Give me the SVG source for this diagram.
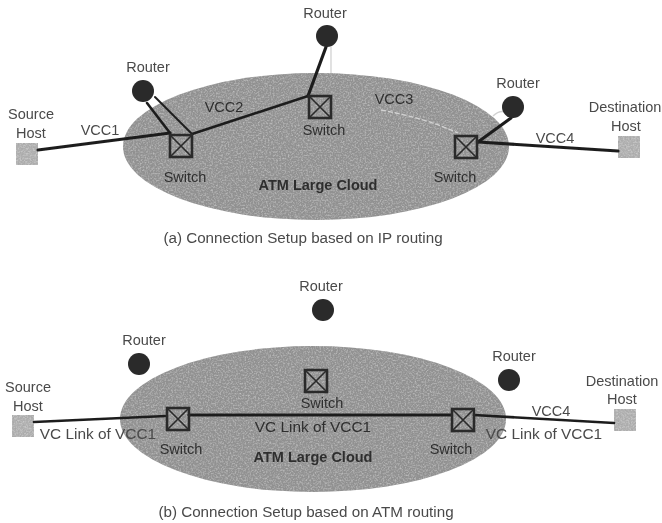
<svg xmlns="http://www.w3.org/2000/svg" width="662" height="523" viewBox="0 0 662 523">
<defs>
<filter id="speckle" x="-5%" y="-5%" width="110%" height="110%">
<feTurbulence type="fractalNoise" baseFrequency="0.6" numOctaves="2" seed="4" result="n"/>
<feColorMatrix in="n" type="matrix" values="0 0 0 0 0.25  0 0 0 0 0.25  0 0 0 0 0.25  0.7 0 0 0 -0.3" result="d"/>
<feComposite in="d" in2="SourceGraphic" operator="in" result="c"/>
<feColorMatrix in="n" type="matrix" values="0 0 0 0 1  0 0 0 0 1  0 0 0 0 1  0 0.7 0 0 -0.3" result="e"/>
<feComposite in="e" in2="SourceGraphic" operator="in" result="f"/>
<feMerge><feMergeNode in="SourceGraphic"/><feMergeNode in="c"/><feMergeNode in="f"/></feMerge>
<feGaussianBlur stdDeviation="0.7"/>
</filter>
<filter id="soft" x="-5%" y="-5%" width="110%" height="110%"><feGaussianBlur stdDeviation="0.45"/></filter>
<g id="sw"><rect x="-11" y="-11" width="22" height="22" fill="none" stroke="#2a2a2a" stroke-width="2.6"/><path d="M-10-10L10 10M10-10L-10 10" stroke="#2a2a2a" stroke-width="1.6"/></g>
</defs>
<style>
.cloud{fill:#929292}
.host{fill:#b0b0b0}
.router{fill:#2a2a2a}
.link{fill:none;stroke:#1f1f1f;stroke-width:2.6;stroke-linecap:round}
.thin{stroke-width:2}
.thick{stroke-width:3.2}
.pale{fill:none;stroke:#d2d2d2;stroke-width:1.3}
text{font-family:"Liberation Sans",Arial,sans-serif;font-size:14.5px;fill:#4a4a4a;text-anchor:middle}
.in{fill:#2f2f2f}
.vc{font-size:15.4px}
.cap{font-size:15.2px}
.atm{font-size:14.5px;font-weight:bold}
</style>
<rect width="662" height="523" fill="#fff"/>
<g id="clouds" filter="url(#speckle)">
<ellipse id="cloud-a" class="cloud" cx="316" cy="146.5" rx="193" ry="73.5"/>
<ellipse id="cloud-b" class="cloud" cx="313" cy="419" rx="193" ry="73"/>
<rect class="host" x="16" y="143" width="22" height="22"/>
<rect class="host" x="618" y="136" width="22" height="22"/>
<rect class="host" x="12" y="415" width="22" height="22"/>
<rect class="host" x="614" y="409" width="22" height="22"/>
</g>
<g filter="url(#soft)">
<g id="connectors">
<path class="pale" d="M331 47V73"/>
<path class="pale" d="M381 110Q425 118 458 133" stroke-dasharray="5 2"/>
<path class="pale" d="M493 116Q499 110 506 112" stroke-width="2"/>
<path class="link thick" d="M38 150L170 133"/>
<path class="link" d="M192 134L308 96"/>
<path class="link" d="M147 103L170 133"/>
<path class="link thin" d="M155 97L192 134"/>
<path class="link thick" d="M326 47L308 96"/>
<path class="link thick" d="M511 118L478 142"/>
<path class="link thick" d="M478 142L618 151"/>
<path class="link" d="M34 422L166 416"/>
<path class="link thick" d="M189 415H451"/>
<path class="link" d="M474 415L614 423"/>
</g>
<g id="source-a"><text x="31" y="119">Source</text><text x="31" y="138">Host</text></g>
<g id="router-a1"><circle class="router" cx="143" cy="91" r="11"/><text x="148" y="72">Router</text></g>
<g id="router-a2"><circle class="router" cx="327" cy="36" r="11"/><text x="325" y="18">Router</text></g>
<g id="router-a3"><circle class="router" cx="513" cy="107" r="11"/><text x="518" y="88">Router</text></g>
<g id="switch-a1"><use href="#sw" x="181" y="146"/><text class="in" x="185" y="182">Switch</text></g>
<g id="switch-a2"><use href="#sw" x="320" y="107"/><text class="in" x="324" y="135">Switch</text></g>
<g id="switch-a3"><use href="#sw" x="466" y="147"/><text class="in" x="455" y="182">Switch</text></g>
<g id="dest-a"><text x="625" y="112">Destination</text><text x="626" y="131">Host</text></g>
<g id="labels-a">
<text x="100" y="135">VCC1</text><text class="in" x="224" y="112">VCC2</text><text class="in" x="394" y="104">VCC3</text><text x="555" y="143">VCC4</text>
<text class="in atm" x="318" y="190">ATM Large Cloud</text>
<text class="cap" x="303" y="243">(a) Connection Setup based on IP routing</text>
</g>
<g id="source-b"><text x="28" y="392">Source</text><text x="28" y="411">Host</text></g>
<g id="router-b1"><circle class="router" cx="139" cy="364" r="11"/><text x="144" y="345">Router</text></g>
<g id="router-b2"><circle class="router" cx="323" cy="310" r="11"/><text x="321" y="291">Router</text></g>
<g id="router-b3"><circle class="router" cx="509" cy="380" r="11"/><text x="514" y="361">Router</text></g>
<g id="switch-b1"><use href="#sw" x="178" y="419"/><text class="in" x="181" y="454">Switch</text></g>
<g id="switch-b2"><use href="#sw" x="316" y="381"/><text class="in" x="322" y="408">Switch</text></g>
<g id="switch-b3"><use href="#sw" x="463" y="420"/><text class="in" x="451" y="454">Switch</text></g>
<g id="dest-b"><text x="622" y="386">Destination</text><text x="622" y="404">Host</text></g>
<g id="labels-b">
<text class="vc" x="98" y="439">VC Link of VCC1</text><text class="in vc" x="313" y="432">VC Link of VCC1</text><text class="vc" x="544" y="439">VC Link of VCC1</text><text x="551" y="416">VCC4</text>
<text class="in atm" x="313" y="462">ATM Large Cloud</text>
<text class="cap" x="306" y="517">(b) Connection Setup based on ATM routing</text>
</g>
</g>
</svg>
